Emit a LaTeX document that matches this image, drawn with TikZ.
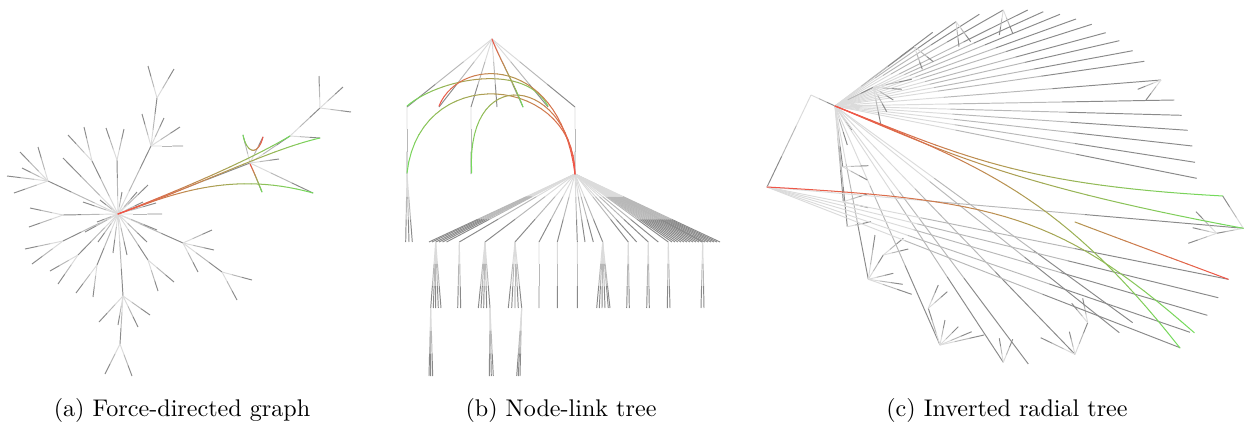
\documentclass[tikz,border=0pt]{standalone}
\usetikzlibrary{calc}
\definecolor{tred}{rgb}{0.95,0.2,0.15}
\definecolor{tgreen}{rgb}{0.35,0.84,0.25}
\tikzset{
  g1/.style={line width=0.4pt,black!14},
  g2/.style={line width=0.4pt,black!28},
  g3/.style={line width=0.4pt,black!46},
  cline/.style={line width=0.42pt,line cap=round},
  caption/.style={anchor=base,font=\normalsize}
}
\newcommand\myedge[2]{%
  \draw[g1] (#1) -- ($(#1)!0.333!(#2)$);
  \draw[g2] ($(#1)!0.333!(#2)$) -- ($(#1)!0.667!(#2)$);
  \draw[g3] ($(#1)!0.667!(#2)$) -- (#2);}
\newcommand\myfan[2]{\foreach \fx/\fy in {#2}{\myedge{#1}{\fx,\fy}}}
\def\fRG{100*(1-\um)}
\def\fGMG{100*(0.5-abs(\um-0.5))}
\def\fRMR{100-100*(0.5-abs(\um-0.5))}
\def\fMR{50+50*\um}
\let\cfun\fRG
\newcommand\ccurve[8]{%
  \foreach \k in {0,...,29}{%
    \pgfmathsetmacro\ua{\k/30}%
    \pgfmathsetmacro\ub{(\k+1)/30}%
    \pgfmathsetmacro\um{(\k+0.5)/30}%
    \pgfmathsetmacro\xa{(1-\ua)^3*(#1)+3*(1-\ua)^2*\ua*(#3)+3*(1-\ua)*\ua^2*(#5)+\ua^3*(#7)}%
    \pgfmathsetmacro\ya{(1-\ua)^3*(#2)+3*(1-\ua)^2*\ua*(#4)+3*(1-\ua)*\ua^2*(#6)+\ua^3*(#8)}%
    \pgfmathsetmacro\xb{(1-\ub)^3*(#1)+3*(1-\ub)^2*\ub*(#3)+3*(1-\ub)*\ub^2*(#5)+\ub^3*(#7)}%
    \pgfmathsetmacro\yb{(1-\ub)^3*(#2)+3*(1-\ub)^2*\ub*(#4)+3*(1-\ub)*\ub^2*(#6)+\ub^3*(#8)}%
    \pgfmathtruncatemacro\pc{\cfun}%
    \draw[cline,tred!\pc!tgreen!85!white] (\xa,\ya) -- (\xb,\yb);
  }}
\begin{document}
\begin{tikzpicture}[x=0.4148pt,y=-0.4148pt]
\useasboundingbox (0,0) rectangle (1244,422);

% ---------------- (a) force-directed graph ----------------
\myfan{118,214}{151/146, 117/160, 92/161, 63/158, 48/181, 63/215, 63/241, 78/255, 97/265, 123/296, 148/260, 183/243, 162/214, 148/185, 157/230, 147/242, 127/255, 113/253, 98/242, 85/232, 97/222, 83/202, 100/200, 122/192, 137/192, 143/202, 156/203, 250/163}
\myfan{151,146}{157/98, 142/114, 164/118, 180/127, 183/146}
\myfan{157,98}{148/66, 174/69}
\myfan{117,160}{106/128, 124/129}
\myfan{92,161}{84/127, 68/135}
\myfan{48,181}{38/147, 20/152, 22/168, 7/176, 14/193}
\myfan{63,215}{30/208, 29/227}
\myfan{63,241}{25/249, 32/264}
\myfan{78,255}{50/271, 58/284}
\myfan{97,265}{76/293, 93/297}
\myfan{123,296}{99/322, 150/315, 138/327, 118/325, 120/344}
\myfan{120,344}{105/374, 132/376}
\myfan{148,260}{158/291, 174/282}
\myfan{183,243}{212/230, 214/250, 198/272, 222/272}
\myfan{222,272}{252/280, 237/300}
\myfan{250,163}{290/136, 279/159, 313/193, 243/135, 263/137, 262/192}
\myfan{290,136}{320/108, 320/138}
\myfan{320,108}{319/76, 343/87, 351/112}

\let\cfun\fRG
\ccurve{118}{214}{180}{190}{250}{160}{290}{136}
\ccurve{118}{214}{200}{185}{268}{150}{320}{138}
\ccurve{118}{214}{170}{195}{230}{170}{313}{193}
\ccurve{263}{137}{258}{156}{247}{154}{243}{135}
\ccurve{250}{164}{254}{172}{258}{182}{262}{192}

% ---------------- (b) node-link tree ----------------
\myfan{492,39}{407/107, 439/107, 471/107, 497/107, 523/107, 548/107, 575/107}
\myedge{407,107}{407,174}
\myedge{471,107}{471,174}
\myedge{575,107}{575,174}
\myfan{407,174}{405.7/242, 409/242, 412.3/242}
\myfan{575,174}{429/242, 432/242, 435.7/242, 439/242, 442.5/242, 446.5/242, 459.3/242, 485/242, 515/242, 539/242, 557.3/242, 577.3/242, 585/242, 593.3/242, 602.7/242, 628.3/242, 636.7/242, 648.3/242, 658.3/242, 668.3/242, 702.7/242}
\foreach \xx in {672,675,...,722}{\myedge{575,174}{\xx,242}}
\myfan{435.7,242}{430.7/308, 433.3/308, 435.7/308, 438.3/308, 441/308}
\myfan{459.3,242}{457.7/308, 460.7/308}
\myfan{485,242}{478.3/308, 481/308, 483.7/308, 486.7/308, 490/308}
\myfan{515,242}{508.3/308, 511.7/308, 515/308, 518.3/308, 521.7/308}
\myedge{539,242}{539,308}
\myedge{557.3,242}{557.3,308}
\myedge{577.3,242}{577.3,308}
\myfan{602.7,242}{596.7/308, 599.3/308, 602/308, 605/308, 608.3/308, 610/308}
\myfan{628.3,242}{626.7/308, 629.3/308}
\myfan{648.3,242}{646.7/308, 649.3/308}
\myfan{668.3,242}{667.3/308, 670/308}
\myfan{702.7,242}{701/308, 704/308}
\myfan{430.7,308}{429/376, 430.7/376, 432.7/376}
\myfan{490,308}{489.3/376, 491.3/376, 493.3/376}
\myfan{521.7,308}{516.7/376, 518.3/376, 520/376}

\let\cfun\fGMG
\ccurve{407}{106}{440}{78}{525}{62}{548}{106}
\let\cfun\fRMR
\ccurve{439}{106}{460}{55}{560}{55}{575}{174}
\let\cfun\fRG
\ccurve{575}{174}{575}{75}{420}{60}{407}{173}
\ccurve{575}{174}{570}{78}{465}{60}{471.7}{173}
\ccurve{492}{39}{500}{60}{515}{85}{523}{107}

% ---------------- (c) inverted radial tree ----------------
\myedge{811,95}{835,106}
\myedge{811,95}{767,187}
\myfan{835,106}{932.7/32.3, 979.3/14.3, 1003.3/10, 956/21.7, 914.3/46.7, 1027.7/10, 1043.3/11.7, 1060/14.3, 1076/19, 1091.7/24.3, 1105.7/32.7, 1119.3/40.7, 1132.7/50.7, 1144.3/61.3, 1161/80, 1174.3/100, 1181.7/115.3, 1187.7/130.3, 1192.3/146, 1195/162.3, 1196.7/178.3, 873.3/87.3, 842.7/166.7, 843.3/201.7, 847.3/226.7, 847.3/145, 851.7/130, 868.3/279.3, 940/345, 1003.3/362.3, 1028.3/364, 1075/354.3, 1119.3/332.7, 1132.7/322.7}
\myfan{1003.3,10}{999.3/35, 1012.7/33.3}
\myfan{956,21.7}{959/46.7, 970.7/41.7}
\myfan{914.3,46.7}{922.3/69.3, 933.3/61.7}
\myfan{1161,80}{1137.7/89.3, 1146/100}
\myfan{873.3,87.3}{911.7/79.3, 901.7/89.3, 893.3/100, 886.7/111.7, 880.7/124}
\myfan{842.7,166.7}{868.3/165.7, 867.3/180}
\myfan{843.3,201.7}{867.3/194, 868.3/207.7}
\myfan{847.3,226.7}{871/221.7}
\myfan{868.3,279.3}{875/235, 883.3/255, 893.3/273.3, 902.7/284.3, 911.7/294.3}
\myfan{883.3,255}{903.3/238.3, 908.3/249}
\myfan{940,345}{928.3/308.3, 945/320, 958.3/326.7, 971.7/331.7, 984/335}
\myfan{928.3,308.3}{938.3/285, 947.3/291.7}
\myfan{1003.3,362.3}{999.3/338.3, 1012.7/339.3}
\myfan{1075,354.3}{1040.7/337.7, 1069.3/331.7, 1087.7/322.7}
\myfan{1087.7,322.7}{1082.7/298.3, 1071.7/303.3}
\myfan{767,187}{1243.3/228.3, 1228.3/279.3, 1218.3/297.7, 1207.3/315.3, 1190/332.3, 1180/347.7}
\myfan{1243.3,228.3}{1222.7/196, 1216.7/233.3}
\myfan{1216.7,233.3}{1196/211.7, 1192.7/227.7, 1188.3/243.3}

\let\cfun\fRG
\ccurve{835}{106}{960}{155}{1020}{185}{1222.7}{196}
\ccurve{835}{106}{940}{150}{1010}{185}{1243.3}{228.3}
\ccurve{835}{106}{980}{165}{1060}{195}{1180}{348}
\ccurve{767}{187}{1000}{200}{1060}{215}{1194.3}{332.7}
\let\cfun\fMR
\ccurve{1075}{222}{1125}{241}{1177}{260}{1228.3}{279.3}

% ---------------- captions ----------------
\node[caption] (capa) at (182,416) {(a) Force-directed graph};
\node[caption] (capb) at (561,416) {(b) Node-link tree};
\node[caption] (capc) at (1007,416) {(c) Inverted radial tree};
\end{tikzpicture}
\end{document}
